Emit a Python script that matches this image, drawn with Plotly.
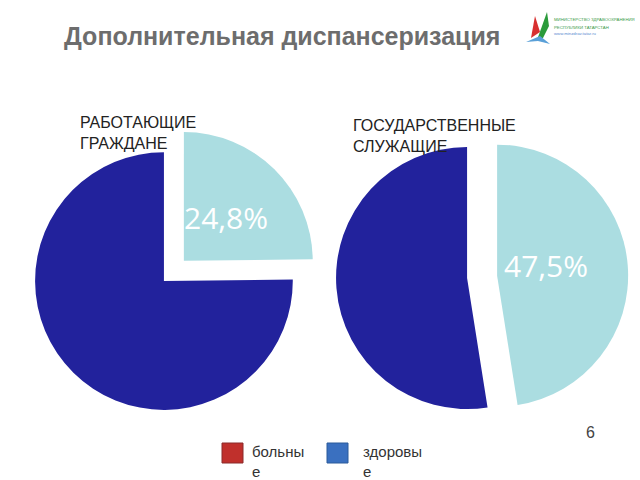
import plotly.graph_objects as go

# Data
categories = ["больные", "здоровые"]
working_values = [24.8, 75.2]
civil_values = [47.5, 52.5]
group_titles = ["РАБОТАЮЩИЕ<br>ГРАЖДАНЕ", "ГОСУДАРСТВЕННЫЕ<br>СЛУЖАЩИЕ"]
legend_labels = ["больны<br>е", "здоровы<br>е"]
legend_colors = ["#c0302c", "#3a70c0"]
slice_colors = ["#abdde1", "#22229c"]
title_text = "Дополнительная диспансеризация"

W, H = 640, 480

fig = go.Figure()

pie_specs = [
    # values, domain x, domain y, pull
    (working_values, [0.0103, 0.502], [0.087, 0.742], 0.22),
    (civil_values, [0.478, 0.9816], [0.085, 0.7565], 0.23),
]

for vals, dx, dy, pull in pie_specs:
    fig.add_trace(go.Pie(
        labels=categories,
        values=vals,
        sort=False,
        direction="clockwise",
        rotation=0,
        pull=[pull, 0],
        marker=dict(colors=slice_colors, line=dict(width=0)),
        textinfo="none",
        hoverinfo="label+value",
        domain=dict(x=dx, y=dy),
        showlegend=False,
    ))

# value labels as annotations (derived from data)
label_pos = [(226, 217), (546, 265)]
for vals, (px, py) in zip([working_values, civil_values], label_pos):
    fig.add_annotation(
        x=px / W, y=1 - py / H, xref="paper", yref="paper",
        text=f"{vals[0]:.1f}%".replace(".", ","),
        showarrow=False,
        font=dict(family="Open Sans", size=30, color="white"),
        xanchor="center", yanchor="middle",
    )

# group titles
for t, (px, py) in zip(group_titles, [(78, 112), (351, 115)]):
    fig.add_annotation(
        x=px / W, y=1 - py / H, xref="paper", yref="paper",
        text=t, showarrow=False, align="left",
        font=dict(family="Liberation Sans", size=16, color="#222222"),
        xanchor="left", yanchor="top",
    )

# main title
fig.add_annotation(
    x=62 / W, y=1 - 20 / H, xref="paper", yref="paper",
    text=f"<b>{title_text}</b>", showarrow=False,
    font=dict(family="Liberation Sans", size=25, color="#6d6d6d"),
    xanchor="left", yanchor="top",
)

# legend (manual)
shapes = []
for lab, col, (sx, tx) in zip(legend_labels, legend_colors, [(222, 250), (327, 361)]):
    shapes.append(dict(
        type="rect", xref="paper", yref="paper",
        x0=sx / W, x1=(sx + 21) / W, y0=1 - 463 / H, y1=1 - 443 / H,
        fillcolor=col, line=dict(color="#8a2a2a" if col == "#c0302c" else "#2a5a9a", width=1),
    ))
    fig.add_annotation(
        x=tx / W, y=1 - 441 / H, xref="paper", yref="paper",
        text=lab, showarrow=False, align="left",
        font=dict(family="Liberation Sans", size=15, color="#333333"),
        xanchor="left", yanchor="top",
    )

# slide number
fig.add_annotation(
    x=590 / W, y=1 - 432 / H, xref="paper", yref="paper",
    text="6", showarrow=False,
    font=dict(family="Liberation Sans", size=16, color="#444444"),
    xanchor="center", yanchor="middle",
)

# logo (approximate)
def P(x, y):
    return f"{x / W:.4f},{1 - y / H:.4f}"

shapes.append(dict(type="path", xref="paper", yref="paper",
                   path=f"M{P(531,38)} L{P(535,16)} L{P(540,32)} Z",
                   fillcolor="#d83030", line=dict(width=0)))
shapes.append(dict(type="path", xref="paper", yref="paper",
                   path=f"M{P(537,40)} L{P(547,12)} L{P(549,26)} L{P(543,38)} Z",
                   fillcolor="#2a9a3a", line=dict(width=0)))
shapes.append(dict(type="path", xref="paper", yref="paper",
                   path=f"M{P(526,42)} L{P(540,36)} L{P(550,44)} L{P(538,41)} Z",
                   fillcolor="#5aa0d8", line=dict(width=0)))
for i, (txt, col) in enumerate([("МИНИСТЕРСТВО ЗДРАВООХРАНЕНИЯ", "#3a9a4a"),
                                ("РЕСПУБЛИКИ ТАТАРСТАН", "#3a9a4a"),
                                ("www.minzdrav.tatar.ru", "#5a8ad0")]):
    fig.add_annotation(
        x=552 / W, y=1 - (20 + i * 7) / H, xref="paper", yref="paper",
        text=txt, showarrow=False,
        font=dict(family="Liberation Sans", size=4.3, color=col),
        xanchor="left", yanchor="middle",
    )

fig.update_layout(
    width=W, height=H,
    margin=dict(l=0, r=0, t=0, b=0),
    paper_bgcolor="white", plot_bgcolor="white",
    shapes=shapes,
    showlegend=False,
)

fig.write_html("out.html")
